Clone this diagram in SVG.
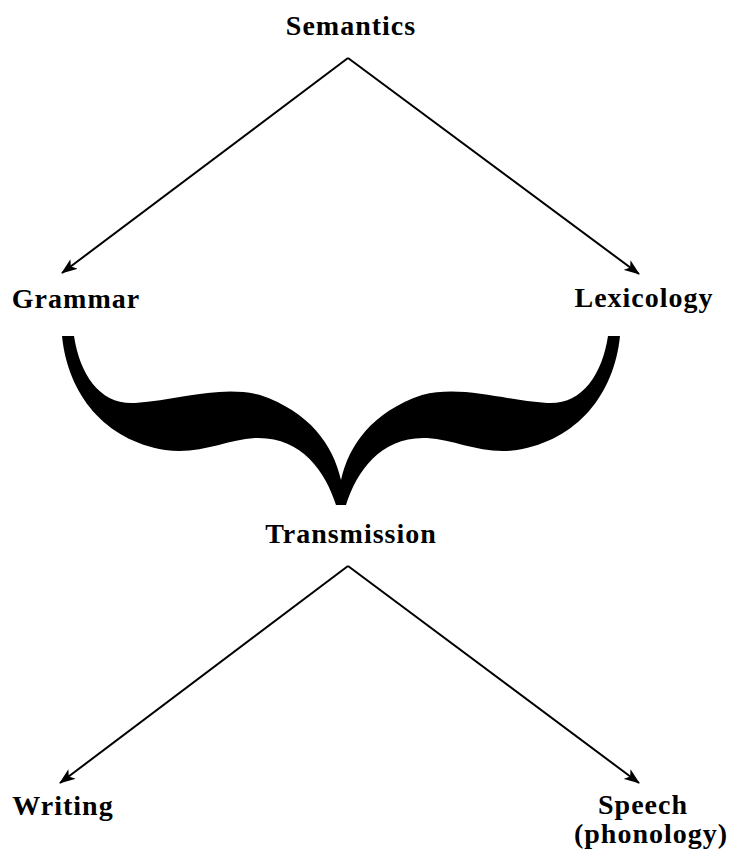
<svg xmlns="http://www.w3.org/2000/svg" width="730" height="860" viewBox="0 0 730 860">
<style>
.lbl{font-family:"Liberation Serif","Times New Roman",serif;font-weight:bold;font-size:28px;letter-spacing:1px;fill:#000;text-anchor:middle}
.edge{stroke:#000;stroke-width:2;fill:none;marker-end:url(#ah)}
</style>
<defs>
<marker id="ah" viewBox="0 0 16 12" refX="15" refY="6" markerWidth="16" markerHeight="12" markerUnits="userSpaceOnUse" orient="auto">
<path d="M0,0 L16,6 L0,12 L4,6 Z" fill="#000"/>
</marker>
</defs>
<g id="semantics"><text class="lbl" x="351" y="35">Semantics</text></g>
<g id="grammar"><text class="lbl" x="76" y="308">Grammar</text></g>
<g id="lexicology"><text class="lbl" x="644" y="307">Lexicology</text></g>
<g id="transmission"><text class="lbl" x="351" y="543">Transmission</text></g>
<g id="writing"><text class="lbl" x="63" y="815">Writing</text></g>
<g id="speech"><text class="lbl" x="643" y="814">Speech</text><text class="lbl" x="651" y="843">(phonology)</text></g>
<g id="brace">
<path fill="#000" d="M62,336 C68,395 105,440 165,450 C200,455 225,440 255,438 C300,436 325,470 336,505 L346,505 C357,470 382,436 427,438 C457,440 482,455 517,450 C577,440 614,395 620,336 L608,336 C602,375 582,405 547,403 C502,400 462,385 422,395 C372,412 349,445 341,480 C333,445 310,412 260,395 C220,385 180,400 135,403 C100,405 80,375 74,336 Z"/>
</g>
<g id="connectors">
<line class="edge" x1="348" y1="58" x2="62" y2="273"/>
<line class="edge" x1="348" y1="58" x2="639" y2="274"/>
<line class="edge" x1="348" y1="566" x2="60" y2="783"/>
<line class="edge" x1="348" y1="566" x2="639" y2="783"/>
</g>
</svg>
